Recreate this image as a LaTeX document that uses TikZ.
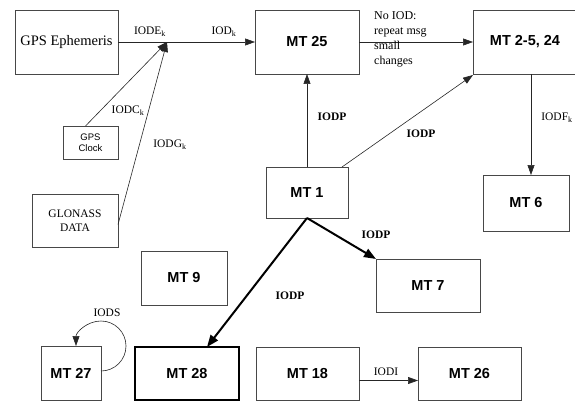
\documentclass[tikz,border=0pt]{standalone}
\usepackage{fontspec}
\setmainfont{Liberation Serif}
\setsansfont{Liberation Sans}
\usetikzlibrary{arrows.meta}
\begin{document}
\begin{tikzpicture}[x=1pt,y=-1pt,
  box/.style={draw=black!72, line width=0.7pt, inner sep=1pt, outer sep=0pt, align=center},
  mt/.style={box, font=\sffamily\bfseries\fontsize{14.5}{16}\selectfont},
  lbl/.style={font=\fontsize{11.5}{13}\selectfont, inner sep=0pt},
  blbl/.style={font=\bfseries\fontsize{11.5}{13}\selectfont, inner sep=0pt},
  arr/.style={draw=black!85, line width=0.6pt, -{Triangle[length=10pt,width=7pt]}},
  tarr/.style={draw=black, line width=2pt, -{Triangle[length=12pt,width=9pt]}},
  ln/.style={draw=black!80, line width=0.6pt}
]
\useasboundingbox (0,0) rectangle (575,401);
% boxes
\node[box, minimum width=103pt, minimum height=64pt, font=\fontsize{14.5}{16}\selectfont] (eph) at (66.5,42) {GPS Ephemeris};
\node[mt, minimum width=104pt, minimum height=64pt] (mt25) at (307,42) {MT 25};
\node[mt, minimum width=104pt, minimum height=64pt] (mt2) at (525,42) {MT 2-5, 24};
\node[box, minimum width=55pt, minimum height=33pt, font=\sffamily\fontsize{9.5}{11}\selectfont] (clock) at (90.5,142.5) {GPS\\Clock};
\node[box, minimum width=86pt, minimum height=53pt, font=\fontsize{11.5}{14}\selectfont] (glonass) at (75,220.5) {GLONASS\\DATA};
\node[mt, minimum width=82pt, minimum height=51pt] (mt1) at (307,192.5) {MT 1};
\node[mt, minimum width=86pt, minimum height=56pt] (mt6) at (526,203) {MT 6};
\node[mt, minimum width=104pt, minimum height=53pt] (mt7) at (428,285.5) {MT 7};
\node[mt, minimum width=86pt, minimum height=54pt] (mt9) at (184,278) {MT 9};
\node[mt, minimum width=60pt, minimum height=54pt] (mt27) at (71,373) {MT 27};
\node[mt, draw=black, line width=2pt, minimum width=104pt, minimum height=53pt] (mt28) at (187,373.5) {MT 28};
\node[mt, minimum width=103pt, minimum height=53pt] (mt18) at (307.5,373.5) {MT 18};
\node[mt, minimum width=103pt, minimum height=53pt] (mt26) at (469.5,373.5) {MT 26};
% junction
\coordinate (J) at (167,42);
\draw[arr] (eph.east) -- (mt25.west);
\draw[arr] ([xshift=-5pt]clock.north) -- (J);
\draw[arr] ([yshift=-4pt]glonass.east) -- (J);
\draw[arr] (mt25.east) -- (mt2.west);
\draw[arr] (mt1.north) -- (mt25.south);
\draw[arr] ([xshift=-6pt]mt1.north east) -- ([yshift=-1pt]mt2.south west);
\draw[arr] ([xshift=6pt]mt2.south) -- ([xshift=6pt]mt2.south |- mt6.north);
\draw[tarr] (mt1.south) -- (mt7.north west);
\draw[tarr] (mt1.south) -- ([xshift=20pt]mt28.north);
\draw[arr] ([yshift=-7pt]mt18.east) -- ([yshift=-7pt]mt18.east -| mt26.west);
\draw[arr] ([yshift=2pt]mt27.east) arc[start angle=90, end angle=-180, radius=25];
% labels
\node[lbl] (l1) at (150,32) {IODE\textsubscript{k}};
\node[lbl] (l2) at (224,32) {IOD\textsubscript{k}};
\node[lbl] (l3) at (128,111) {IODC\textsubscript{k}};
\node[lbl] (l4) at (170,145) {IODG\textsubscript{k}};
\node[blbl] (l5) at (332,117) {IODP};
\node[blbl] (l6) at (421,134) {IODP};
\node[lbl] (l7) at (557,118) {IODF\textsubscript{k}};
\node[blbl] (l8) at (376,235) {IODP};
\node[blbl] (l9) at (290,296) {IODP};
\node[lbl] (l10) at (107,313) {IODS};
\node[lbl] (l11) at (386,372) {IODI};
\node[lbl, anchor=north west, align=left, font=\fontsize{12}{14.8}\selectfont] (l12) at (374,11.5) {No IOD:\\repeat msg\\small\\changes};
\end{tikzpicture}
\end{document}
